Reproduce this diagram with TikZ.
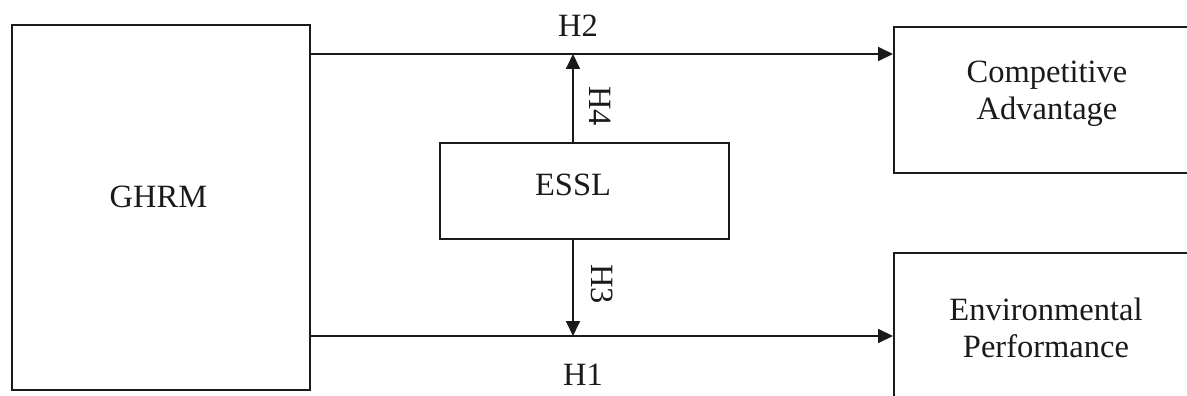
\documentclass[tikz,border=0pt]{standalone}
\usepackage{fontspec}
\setmainfont{Liberation Serif}
\usetikzlibrary{arrows.meta}
\definecolor{ink}{HTML}{1A1A1A}
\begin{document}
\begin{tikzpicture}[x=1pt,y=-1pt,
  box/.style={draw=ink,line width=1.8pt,rectangle,inner sep=0pt,anchor=north west},
  txt/.style={inner sep=0pt,align=center,font=\fontsize{32.5}{37}\selectfont,text=ink},
  conn/.style={draw=ink,line width=1.8pt,-{Triangle[length=15pt,width=14pt]}}]
\useasboundingbox (0,0) rectangle (1187,396);
\clip (0,0) rectangle (1187,396);
\fill[white] (0,0) rectangle (1187,396);
% boxes
\node[box,minimum width=298pt,minimum height=365pt] (ghrm) at (11,24) {};
\node[box,minimum width=289pt,minimum height=96pt] (essl) at (439,142) {};
\node[box,minimum width=310pt,minimum height=146pt] (comp) at (893,26) {};
\node[box,minimum width=310pt,minimum height=160pt] (env) at (893,252) {};
% texts
\node[txt] (tghrm) at (158.5,197) {GHRM};
\node[txt] (tessl) at (573,184.5) {ESSL};
\node[txt,anchor=base] (tcomp) at (1047,120) {Competitive\\Advantage};
\node[txt,anchor=base] (tenv) at (1046,357) {Environmental\\Performance};
% junction coordinates
\coordinate (t) at (573,54);
\coordinate (b) at (573,336);
% connectors
\draw[conn] (ghrm.east |- t) -- (comp.west |- t);
\draw[conn] (ghrm.east |- b) -- (env.west |- b);
\draw[conn] (essl.north -| t) -- (t);
\draw[conn] (essl.south -| b) -- (b);
% labels
\node[txt] (h2) at (578,26) {H2};
\node[txt] (h1) at (583,375) {H1};
\node[txt,rotate=-90] (h4) at (600,106) {H4};
\node[txt,rotate=-90] (h3) at (602,284) {H3};
\end{tikzpicture}
\end{document}
